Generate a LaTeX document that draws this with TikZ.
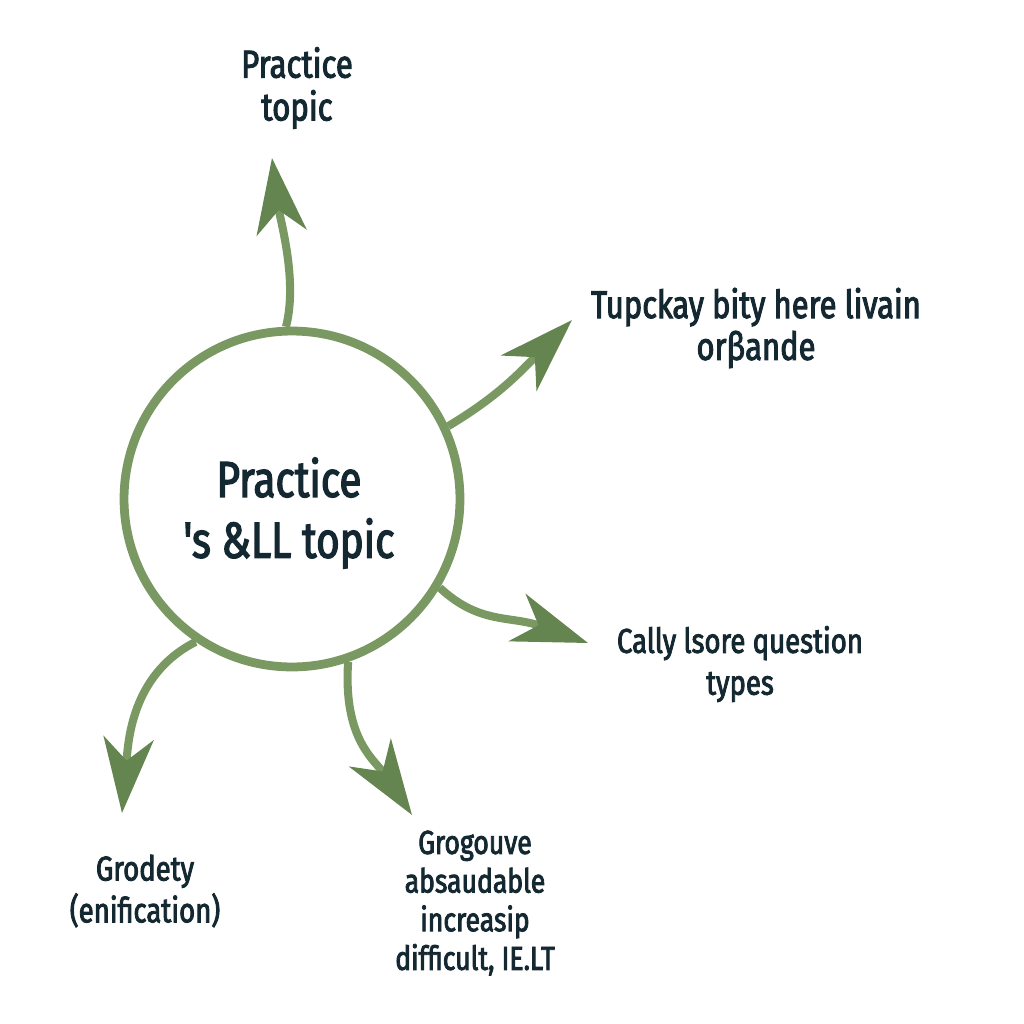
\documentclass[tikz,border=0pt]{standalone}
\usepackage{fontspec}
\newfontfamily\labelfont{Fira Sans}[FakeStretch=0.8,FakeBold=2.5]
\usetikzlibrary{arrows.meta}
\definecolor{moss}{RGB}{122,152,98}
\definecolor{mossdark}{RGB}{100,132,80}
\definecolor{ink}{RGB}{20,40,50}
\tikzset{
  hub/.style={circle,draw=moss,line width=5pt,minimum size=6.72cm},
  branch/.style={draw=moss,line width=4.6pt,
    -{Stealth[length=15mm,width=10mm,inset=4.5mm,color=mossdark]}},
  leaf/.style 2 args={text=ink,align=center,inner sep=0pt,
    font=\labelfont\fontsize{#1}{#2}\selectfont},
}
\begin{document}
\begin{tikzpicture}[x=0.02cm,y=-0.02cm]
  \useasboundingbox (0,0) rectangle (1024,1024);
  \node[hub] (hub) at (292,499) {};
  \node[leaf={28.8}{34.6}] (core) at (289,513) {Practice\\'s \&LL topic};
  % labels round the circle
  \node[leaf={22.2}{24.4}] (top) at (297,88) {Practice\\topic};
  \node[leaf={22}{23.8}] (upright) at (756,328) {Tupckay bity here livain\\orβande};
  \node[leaf={19.6}{23.8}] (lowright) at (740,664) {Cally lsore question\\types};
  \node[leaf={19.6}{23.8}] (lowleft) at (145,891) {Grodety\\(enification)};
  \node[leaf={18.9}{22}] (bottom) at (475,903) {Grogouve\\absaudable\\increasip\\difficult, IE.LT};
  % arrow ends
  \coordinate (tip1) at (272,158);
  \coordinate (tip2) at (572,320);
  \coordinate (tip3) at (588,643);
  \coordinate (tip4) at (412,815);
  \coordinate (tip5) at (122,813);
  \draw[branch] (hub.92) .. controls (298,280) and (280,220) .. (tip1);
  \draw[branch] (hub.25) .. controls (500,395) and (520,372) .. (tip2);
  \draw[branch] (hub.-31) .. controls (480,625) and (510,615) .. (tip3);
  \draw[branch] (hub.-71) .. controls (343,740) and (375,760) .. (tip4);
  \draw[branch] (hub.-124) .. controls (130,675) and (128,745) .. (tip5);
\end{tikzpicture}
\end{document}
